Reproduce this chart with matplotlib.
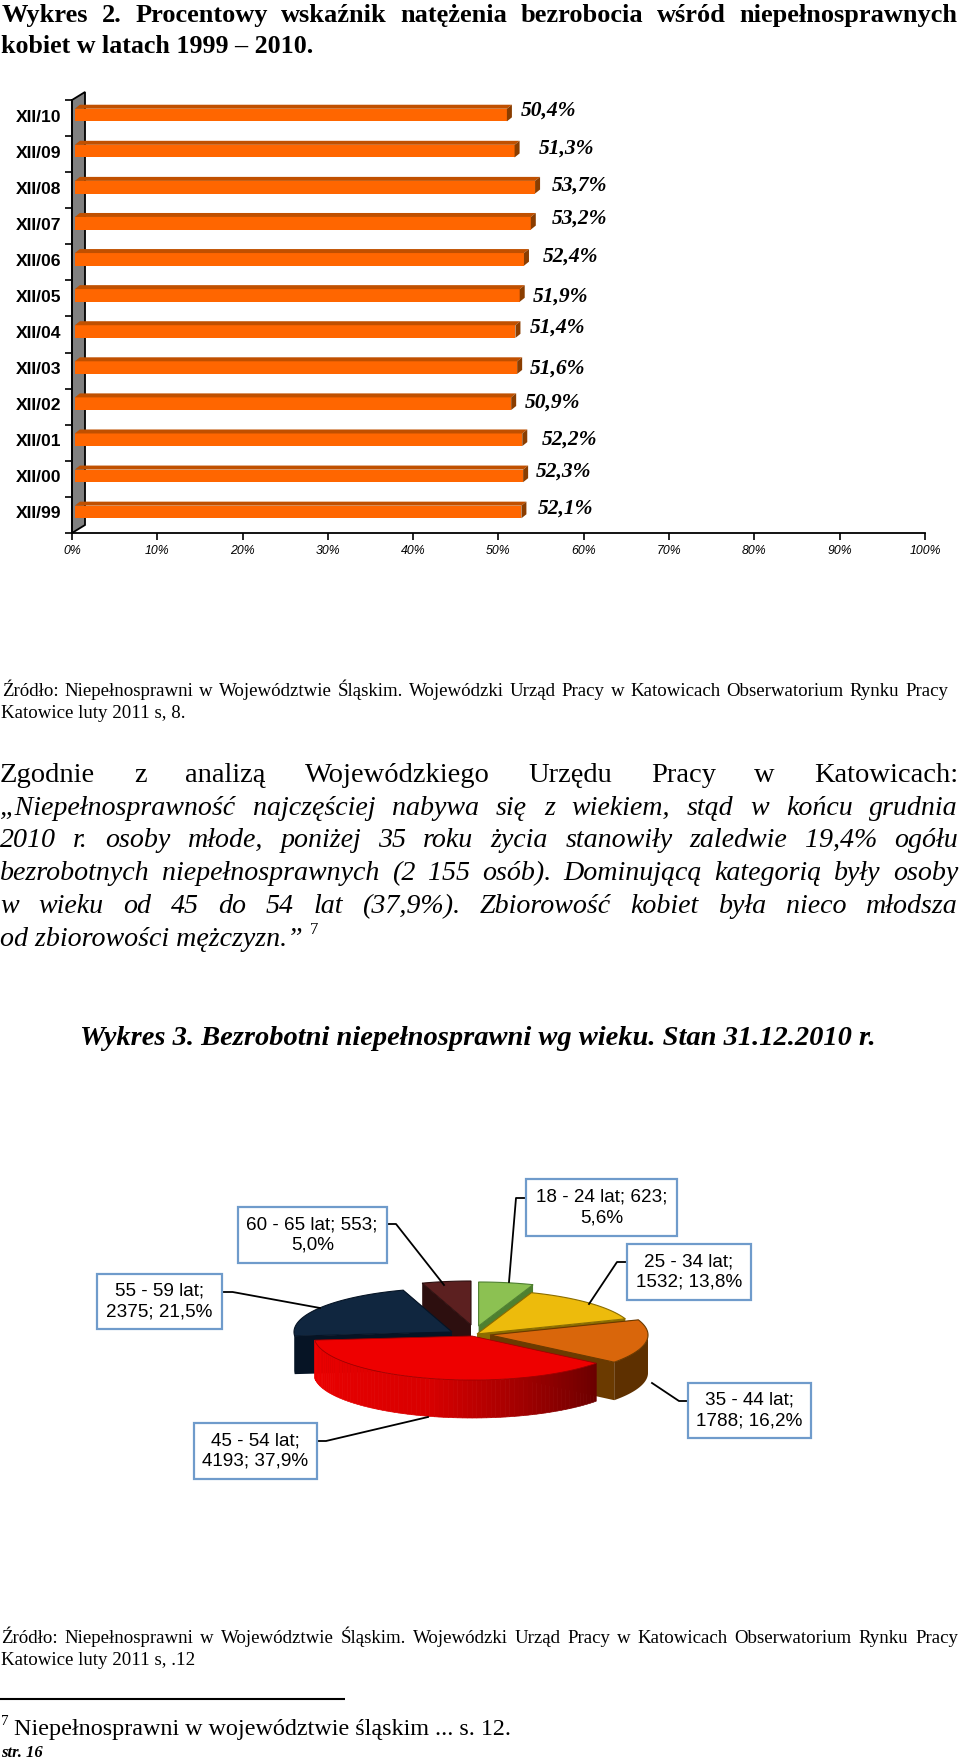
import numpy as np
import matplotlib
matplotlib.use("Agg")
import matplotlib.pyplot as plt
from matplotlib.patches import Polygon, Rectangle
from matplotlib.transforms import IdentityTransform, offset_copy

# Chart 2 data
YEARS = ["XII/10", "XII/09", "XII/08", "XII/07", "XII/06", "XII/05",
         "XII/04", "XII/03", "XII/02", "XII/01", "XII/00", "XII/99"]
RATES = [50.4, 51.3, 53.7, 53.2, 52.4, 51.9, 51.4, 51.6, 50.9, 52.2, 52.3, 52.1]
RATE_LABELS = ["50,4%", "51,3%", "53,7%", "53,2%", "52,4%", "51,9%",
               "51,4%", "51,6%", "50,9%", "52,2%", "52,3%", "52,1%"]
X_TICKS = [0, 10, 20, 30, 40, 50, 60, 70, 80, 90, 100]

# Chart 3 data
AGE_GROUPS = ["18 - 24 lat", "25 - 34 lat", "35 - 44 lat", "45 - 54 lat", "55 - 59 lat", "60 - 65 lat"]
AGE_COUNTS = [623, 1532, 1788, 4193, 2375, 553]
AGE_SHARES = [5.6, 13.8, 16.2, 37.9, 21.5, 5.0]

# label placement quirks of the original, in pixels
LABEL_GAP = [8.6, 19.3, 11.3, 15.5, 13.9, 8.2, 9, 7.3, 8.8, 14.1, 7.8, 11.5]
LABEL_RISE = [7.2, 5.4, 4.5, 7.3, 5.7, 1.8, 7.3, 2.2, 3.8, 3.5, 7.7, 6.2]

SERIF = "Liberation Serif"
SANS = "Liberation Sans"

W, H = 960, 1760
fig = plt.figure(figsize=(W / 100, H / 100), dpi=100, facecolor="white")

page = fig.add_axes([0, 0, 1, 1], zorder=0)
page.set_xlim(0, W)
page.set_ylim(H, 0)
page.axis("off")
renderer = fig.canvas.get_renderer()


def text_line(s, x, y, size, x2=None, **kw):
    # one line of text, words spread out to x2 when justified
    kw.setdefault("family", SERIF)
    if x2 is None:
        page.text(x, y, s, fontsize=size, va="baseline", ha="left", color="black", **kw)
        return
    items = [page.text(0, y, w, fontsize=size, va="baseline", ha="left", color="black", **kw)
             for w in s.split(" ")]
    widths = [t.get_window_extent(renderer).width for t in items]
    gap = (x2 - x - sum(widths)) / (len(items) - 1)
    pos = x
    for t, w in zip(items, widths):
        t.set_x(pos)
        pos += w + gap


# ---- page text ----
text_line("Wykres 2. Procentowy wskaźnik natężenia bezrobocia wśród niepełnosprawnych",
          2, 22, 19, x2=957, weight="bold")
text_line("kobiet w latach 1999 – 2010.", 1, 53, 18.7, weight="bold")

text_line("Źródło: Niepełnosprawni w Województwie Śląskim. Wojewódzki Urząd Pracy w Katowicach "
          "Obserwatorium Rynku Pracy", 2, 696, 13.6, x2=948)
text_line("Katowice luty 2011 s, 8.", 1, 718, 13.6)

text_line("Zgodnie z analizą Wojewódzkiego Urzędu Pracy w Katowicach:", 0, 782, 20.5, x2=958)
text_line("„Niepełnosprawność najczęściej nabywa się z wiekiem, stąd w końcu grudnia",
          0, 815, 20.2, x2=958, style="italic")
text_line("2010 r. osoby młode, poniżej 35 roku życia stanowiły zaledwie 19,4% ogółu",
          0, 847, 20.2, x2=958, style="italic")
text_line("bezrobotnych niepełnosprawnych (2 155 osób). Dominującą kategorią były osoby",
          0, 880, 20.2, x2=958, style="italic")
text_line("w wieku od 45 do 54 lat (37,9%). Zbiorowość kobiet była nieco młodsza",
          0, 913, 20.2, x2=958, style="italic")
text_line("od zbiorowości mężczyzn.”", 0, 946, 20.2, style="italic")
text_line("7", 310, 934, 12)

text_line("Wykres 3. Bezrobotni niepełnosprawni wg wieku. Stan 31.12.2010 r.",
          80, 1045, 20.5, weight="bold", style="italic")

text_line("Źródło: Niepełnosprawni w Województwie Śląskim. Wojewódzki Urząd Pracy w Katowicach "
          "Obserwatorium Rynku Pracy", 1, 1643, 13.6, x2=958)
text_line("Katowice luty 2011 s, .12", 1, 1665, 13.6)
page.plot([0, 345], [1699, 1699], color="black", lw=1.5, solid_capstyle="butt")
text_line("7", 1, 1725, 11)
text_line("Niepełnosprawni w województwie śląskim ... s. 12.", 13.5, 1735, 17.4)
text_line("str. 16", 1, 1757, 12, weight="bold", style="italic")

# ---- bar chart ----
LEFT, RIGHT, TOP, BOTTOM = 72, 925, 100, 533
ax = fig.add_axes([LEFT / W, 1 - BOTTOM / H, (RIGHT - LEFT) / W, (BOTTOM - TOP) / H], zorder=1)
ax.patch.set_alpha(0)
ax.set_xlim(0, 100)
ax.set_ylim(len(YEARS), 0)
ypos = np.arange(len(YEARS)) + 0.5

FACE_DX, FACE_DY = 5, 3
DEPTH_X, DEPTH_Y = 5, 4
WALL_X, WALL_Y = 13, 8
BAR_H = 0.35
BAR_START = -0.25
FACE = "#FF6600"
CAP = "#C05000"
SIDE = "#8A3D00"


def disp(x, y, dx=0, dy=0):
    px, py = ax.transData.transform((x, y))
    return (px + dx, py + dy)


def add_px(points, **kw):
    ax.add_patch(Polygon(points, closed=True, transform=IdentityTransform(), clip_on=False, **kw))


add_px([disp(0, 12), disp(0, 0), disp(0, 0, WALL_X, WALL_Y), disp(0, 12, WALL_X, WALL_Y)],
       facecolor="#808080", edgecolor="black", lw=1.3, zorder=1)

face_tr = offset_copy(ax.transData, fig, x=FACE_DX, y=FACE_DY, units="dots")
ax.barh(ypos, np.array(RATES) - BAR_START, height=BAR_H, left=BAR_START, color=FACE,
        transform=face_tr, zorder=3)

for y, v in zip(ypos, RATES):
    t = y - BAR_H / 2
    b = y + BAR_H / 2
    add_px([disp(BAR_START, t, FACE_DX, FACE_DY), disp(v, t, FACE_DX, FACE_DY),
            disp(v, t, FACE_DX + DEPTH_X, FACE_DY + DEPTH_Y),
            disp(BAR_START, t, FACE_DX + DEPTH_X, FACE_DY + DEPTH_Y)],
           facecolor=CAP, edgecolor="none", zorder=3)
    add_px([disp(v, t, FACE_DX, FACE_DY), disp(v, b, FACE_DX, FACE_DY),
            disp(v, b, FACE_DX + DEPTH_X, FACE_DY + DEPTH_Y), disp(v, t, FACE_DX + DEPTH_X, FACE_DY + DEPTH_Y)],
           facecolor=SIDE, edgecolor="none", zorder=3)

for y, v, lab, gap, rise in zip(ypos, RATES, RATE_LABELS, LABEL_GAP, LABEL_RISE):
    tr = offset_copy(ax.transData, fig, x=FACE_DX + DEPTH_X + gap, y=rise, units="dots")
    ax.text(v, y, lab, transform=tr, family=SERIF, weight="bold", style="italic", fontsize=15.5,
            ha="left", va="center", color="black", zorder=4)

for s in ["top", "right"]:
    ax.spines[s].set_visible(False)
ax.spines["left"].set_linewidth(1.3)
ax.spines["bottom"].set_linewidth(1.3)
ax.set_yticks(np.arange(len(YEARS) + 1))
ax.set_yticklabels([])
ax.set_yticks(ypos - 0.07, minor=True)
ax.set_yticklabels(YEARS, minor=True, family=SANS, weight="bold", fontsize=12.6)
ax.tick_params(axis="y", which="major", length=5, width=1.2)
ax.tick_params(axis="y", which="minor", length=0, pad=8)
ax.set_xticks(X_TICKS)
ax.set_xticklabels([f"{t}%" for t in X_TICKS], family=SANS, style="italic", fontsize=8.8)
ax.tick_params(axis="x", length=5, width=1.2, pad=4)

# ---- exploded 3D pie, drawn on the page axes ----
CX, CY, RX, RY, PIE_DEPTH = 472, 1336, 158, 44, 38
SHIFT = [(6.6, -10), (5, -2), (18, -1), (0, 0), (-20, -4), (-1, -11)]
TOP_COL = ["#8CC152", "#EDBB0C", "#D9660B", "#EE0000", "#10263F", "#5C2020"]
CUT_COL = ["#4E8030", "#8A6C00", "#6B3A00", "#700000", "#061425", "#2D0F0F"]
SIDE_COL = ["#6F9E3C", "#A98500", "#5E3000", "#C00000", "#061425", "#2D0F0F"]

edges = np.radians(np.cumsum([0] + AGE_SHARES) * 3.6)


def arc(i, n=80):
    t = np.linspace(edges[i], edges[i + 1], n)
    dx, dy = SHIFT[i]
    return np.column_stack([CX + dx + RX * np.sin(t), CY + dy - RY * np.cos(t)])


def apex(i):
    return np.array([CX + SHIFT[i][0], CY + SHIFT[i][1]])


def slice_side(i, z):
    a = arc(i)
    o = apex(i)
    down = np.array([0, PIE_DEPTH])
    # radial cut face on the far end, then the rim on the lower half of the ellipse
    for p in [a[0], a[-1]]:
        page.add_patch(Polygon([o, p, p + down, o + down], facecolor=CUT_COL[i], edgecolor="none", zorder=z))
    low = a[a[:, 1] >= apex(i)[1]]
    if len(low) > 1:
        page.add_patch(Polygon(np.vstack([low, (low + down)[::-1]]), facecolor=SIDE_COL[i],
                               edgecolor="none", zorder=z))


def slice_top(i, z):
    page.add_patch(Polygon(np.vstack([apex(i), arc(i)]), facecolor=TOP_COL[i],
                           edgecolor=CUT_COL[i], lw=0.8, zorder=z))


z = 2
for i in [5, 4, 0, 1, 2]:
    slice_side(i, z)
    slice_top(i, z + 1)
    z += 2

# red front slice: rim fades out to the right
red_arc = arc(3)
for k in range(len(red_arc) - 1):
    f = k / (len(red_arc) - 2)
    shade = np.interp(f, [0, 0.5, 1], [0.42, 0.85, 0.93])
    quad = [red_arc[k], red_arc[k + 1], red_arc[k + 1] + [0, PIE_DEPTH], red_arc[k] + [0, PIE_DEPTH]]
    page.add_patch(Polygon(quad, facecolor=(shade, 0, 0), edgecolor=(shade, 0, 0), lw=0.5, zorder=z))
page.add_patch(Polygon(np.vstack([apex(3), red_arc]), facecolor=TOP_COL[3], edgecolor="#A00000", lw=0.6, zorder=z + 1))

# callouts: box corners and leader lines
BOXES = [(526, 1179, 677, 1236), (627, 1244, 751, 1300), (688, 1383, 811, 1438),
         (194, 1423, 317, 1479), (97, 1274, 221.5, 1329), (237.5, 1207, 387, 1263)]
LEADERS = [[(526, 1198), (516, 1198), (509, 1282)],
           [(627, 1262), (617, 1262), (589, 1304)],
           [(688, 1401), (679, 1401), (652, 1383)],
           [(317, 1441), (326, 1441), (428, 1417)],
           [(221.5, 1292), (232.6, 1292), (320, 1308)],
           [(387, 1224), (396, 1224), (444, 1285)]]
TWO_PART = [True, False, False, False, False, True]

for i, (x0, y0, x1, y1) in enumerate(BOXES):
    count, share = AGE_COUNTS[i], f"{AGE_SHARES[i]:.1f}".replace(".", ",")
    if TWO_PART[i]:
        label = f"{AGE_GROUPS[i]}; {count};\n{share}%"
    else:
        label = f"{AGE_GROUPS[i]};\n{count}; {share}%"
    page.add_patch(Rectangle((x0, y0), x1 - x0, y1 - y0, facecolor="white", edgecolor="#6F9BCB",
                             lw=1.6, zorder=20))
    page.text((x0 + x1) / 2, (y0 + y1) / 2, label, family=SANS, fontsize=13.6, ha="center", va="center",
              linespacing=1.3, color="black", zorder=21)
    xs, ys = zip(*LEADERS[i])
    page.plot(xs, ys, color="black", lw=1.3, zorder=19)

fig.savefig("out.png", dpi=100)
